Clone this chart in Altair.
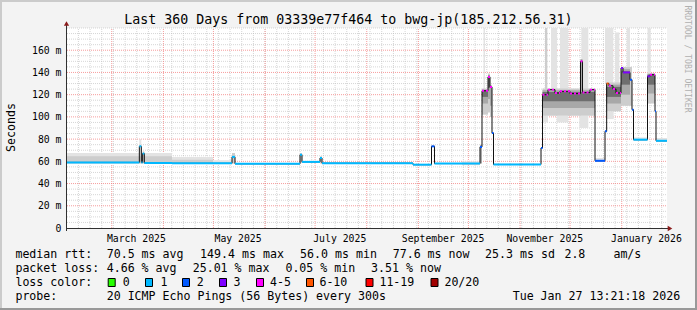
import altair as alt
import pandas as pd

# ---------------------------------------------------------------- data
GRAPH_END = "2026-01-28T03:45:00"      # right edge of the time axis
SPAN_DAYS = 360

# median rtt as steps: start day (since left edge), value in ms, loss class
med_day = [0, 43.4, 44.6, 45.4, 46.4, 63, 99, 100.8, 139.8, 141, 151.8, 153,
           207.6, 218.7, 220.5, 247.8, 249, 252.6, 253.8, 255, 255.9, 284.4,
           285.3, 288.6, 292.8, 295.8, 301.8, 308.1, 309.3, 313.8, 316.8, 322.8,
           323.8, 325.2, 327.6, 329.4, 332.4, 333.6, 337.8, 339.0, 339.9, 348.3,
           349.8, 352.8, 353.4]
med_ms = [59, 73.5, 59, 67, 58.5, 58.2, 64, 57.8, 66, 59.5, 63, 58.3,
          57, 73.5, 58, 73, 123.5, 136, 127, 85.5, 57.2, 72,
          120, 124.5, 121.5, 123, 121, 150, 122, 124.5, 60.5, 87,
          130, 128, 125, 121.5, 144, 140, 133.5, 106.5, 79.5, 136.5,
          138, 105, 78.5]
med_loss = ["1", "1", "1", "1", "1", "1", "1", "1", "1", "1", "1", "1",
            "1", "2", "1", "2", "4-5", "4-5", "4-5", "2", "1", "2",
            "4-5", "4-5", "4-5", "4-5", "4-5", "4-5", "4-5", "4-5", "2", "2",
            "6-10", "4-5", "4-5", "4-5", "3", "3", "2", "2", "1", "3",
            "4-5", "2", "1"]

# smoke (ping spread) bands: [from day, to day, low ms, high ms]
smoke_faint = [
    [0, 63, 57.5, 67.5], [43.4, 44.6, 59, 80], [63, 87.6, 57.5, 64],
    [87.6, 99, 57.5, 61], [237, 247.8, 56.5, 60], [249.9, 250.8, 124, 180],
    [285.3, 288.6, 95, 101], [293.8, 300.8, 95, 101], [307.4, 312.8, 90, 101],
    [290.4, 294.0, 125, 180], [295.8, 300.8, 125, 180], [308.6, 312.8, 125, 180],
    [316.8, 322.8, 59.5, 63], [322.8, 327.8, 130, 180], [328.8, 331.4, 126, 176],
    [335.8, 337.8, 141, 180], [348.3, 350.2, 138, 180], [323.4, 328.0, 98, 105],
    [339.9, 348.3, 78.5, 81.5], [353.4, 360, 77.5, 81],
]
smoke_light = [
    [0, 63, 58.5, 64.5], [45.4, 46.4, 59, 69], [63, 87.6, 58, 61.5],
    [99, 100.8, 58, 67.5], [139.8, 141, 58.5, 67.5], [151.8, 153, 58, 64.5],
    [249, 252.6, 102, 125.5], [252.6, 253.8, 104, 139], [253.8, 255, 100, 129],
    [285.3, 316.8, 101, 125.5], [286.8, 288.2, 125, 180],
    [323.4, 332.4, 105, 131], [332.4, 339.0, 110, 145], [348.3, 352.8, 112, 139.5],
]
smoke_mid = [
    [247.8, 249, 58, 75], [249, 252.6, 112, 124.5], [252.6, 253.8, 116, 137.5],
    [253.8, 255, 110, 128], [285.3, 316.8, 108, 124], [308.1, 309.3, 112, 152],
    [323.4, 332.4, 112, 129], [332.4, 337.8, 120, 143], [348.3, 352.8, 121, 138.5],
]
smoke_dark = [
    [249, 252.6, 118, 124], [252.6, 253.8, 126, 137], [285.3, 316.8, 114, 122.5],
    [323.4, 332.4, 118, 127], [332.4, 337.8, 129, 141], [348.3, 352.8, 129, 138],
]

loss_classes = ["0", "1", "2", "3", "4-5", "6-10", "11-19", "20/20"]
loss_colors = ["#26ff00", "#00b8ff", "#0059ff", "#7e00ff",
               "#ff00ff", "#ff5500", "#ff0000", "#a10000"]

y_label_values = [0, 20, 40, 60, 80, 100, 120, 140, 160]
x_label_dates = ["2025-03-15T12:00:00", "2025-05-15T12:00:00", "2025-07-15T12:00:00",
                 "2025-09-15T12:00:00", "2025-11-15T12:00:00", "2026-01-15T12:00:00"]

title_text = "Last 360 Days from 03339e77f464 to bwg-jp(185.212.56.31)"
legend_rows = [
    ["median rtt:", "70.5 ms avg", "149.4 ms max", "56.0 ms min",
     "77.6 ms now", "25.3 ms sd", "2.8", "am/s"],
    ["packet loss:", "4.66 % avg", "25.01 % max", "0.05 % min", "3.51 % now"],
    ["probe:", "20 ICMP Echo Pings (56 Bytes) every 300s", "Tue Jan 27 13:21:18 2026"],
]

# ---------------------------------------------------------------- layout
W, H = 600, 200
L, T = 67, 28
FONT = "DejaVu Sans Mono"
row1_x = [16, 107.3, 200.7, 300.7, 393.3, 485.7, 565, 614]
row2_x = [16, 107.3, 193.3, 286, 371.7]
row4_x = [16, 107.3, 513.3]
swatch_cx = [111.7, 149, 186, 223, 260, 310, 369.5, 434.5]
swatch_tx = [123.3, 161, 197.3, 234, 270.7, 320, 380, 445]

end = pd.Timestamp(GRAPH_END)
start = end - pd.Timedelta(days=SPAN_DAYS)


def iso(ts):
    return pd.Timestamp(ts).strftime("%Y-%m-%dT%H:%M:%S")


def at(d):
    return iso(start + pd.Timedelta(days=float(d)))


def dt(ts):
    ts = pd.Timestamp(ts)
    return alt.DateTime(year=ts.year, month=ts.month, date=ts.day,
                        hours=ts.hour, minutes=ts.minute, seconds=ts.second)


xs = alt.Scale(domain=[dt(start), dt(end)])
ys = alt.Scale(domain=[0, 180], nice=False, zero=False)
ONE = pd.DataFrame({"k": [0]})

x_axis = alt.Axis(values=[dt(d) for d in x_label_dates], format="%B %Y", title="",
                  labelFont=FONT, labelFontSize=9.8, labelColor="#000000",
                  labelPadding=13.5, labelBaseline="alphabetic", labelAlign="center",
                  labelFlush=False, labelOverlap=False, ticks=False,
                  domain=False, grid=False)
y_axis = alt.Axis(values=y_label_values, title="",
                  labelExpr="datum.value == 0 ? '0\u00a0\u00a0' : datum.value + ' m'",
                  labelFont=FONT, labelFontSize=9.8, labelColor="#000000",
                  labelPadding=6, labelBaseline="middle", ticks=False,
                  domain=False, grid=False)


def X(field):
    return alt.X(field, scale=xs, axis=x_axis)


def Y(field):
    return alt.Y(field, scale=ys, axis=y_axis)


# ---------------------------------------------------------------- frame
def band(x0, x1, y0, y1, color):
    return alt.Chart(ONE).mark_rect(color=color).encode(
        x=alt.value(x0 - L), x2=alt.value(x1 - L),
        y=alt.value(y0 - T), y2=alt.value(y1 - T))


frame = [
    band(0, 697, 0, 2, "#CBCBCB"), band(0, 2, 0, 310, "#CBCBCB"),
    band(695, 697, 0, 310, "#999999"), band(0, 697, 308, 310, "#999999"),
]

# ---------------------------------------------------------------- grid
sundays = [iso(d) for d in pd.date_range(start.normalize(), end, freq="W-SUN") if d > start]
months = [iso(d) for d in pd.date_range(start.normalize(), end, freq="MS") if d > start]
minor_v = [v for v in range(5, 185, 5) if v % 20 != 0 or v == 180]
major_v = list(range(20, 180, 20))


def vgrid(dates, color, opacity):
    df = pd.DataFrame({"t": dates, "lo": 0, "hi": 180})
    return alt.Chart(df).mark_rule(color=color, opacity=opacity, strokeDash=[1, 1],
                                   strokeWidth=1).encode(x=X("t:T"), y=Y("lo:Q"), y2="hi:Q")


def hgrid(values, color, opacity):
    df = pd.DataFrame({"v": values, "t0": iso(start), "t1": iso(end)})
    return alt.Chart(df).mark_rule(color=color, opacity=opacity, strokeDash=[1, 1],
                                   strokeWidth=1).encode(x=X("t0:T"), x2="t1:T", y=Y("v:Q"))


grids = [vgrid(sundays, "#BABABA", 0.6), hgrid(minor_v, "#BABABA", 0.6),
         vgrid(months, "#F27474", 0.7), hgrid(major_v, "#F27474", 0.7)]

# ---------------------------------------------------------------- smoke
def smoke(rows, color):
    df = pd.DataFrame({
        "t0": [at(r[0]) for r in rows], "t1": [at(r[1]) for r in rows],
        "lo": [r[2] for r in rows], "hi": [r[3] for r in rows]})
    return alt.Chart(df).mark_rect(color=color).encode(
        x=X("t0:T"), x2="t1:T", y=Y("lo:Q"), y2="hi:Q")


smoke_layers = [smoke(smoke_faint, "#E3E3E3"), smoke(smoke_light, "#CDCDCD"),
                smoke(smoke_mid, "#A8A8A8"), smoke(smoke_dark, "#6E6E6E")]

# ---------------------------------------------------------------- median
med_pts = pd.DataFrame({"t": [at(d) for d in med_day] + [iso(end)],
                        "ms": med_ms + [med_ms[-1]]})
median_line = alt.Chart(med_pts).mark_line(
    color="#111111", strokeWidth=1, interpolate="step-after").encode(
    x=X("t:T"), y=Y("ms:Q"))

seg = pd.DataFrame({"t0": [at(d) for d in med_day],
                    "t1": [at(d) for d in med_day[1:]] + [iso(end)],
                    "ms": med_ms, "loss": med_loss})
loss_scale = alt.Scale(domain=loss_classes, range=loss_colors)
heavy = ["4-5", "6-10", "11-19", "20/20"]
seg_solid = alt.Chart(seg).transform_filter(
    alt.FieldOneOfPredicate(field="loss", oneOf=loss_classes[:4])).mark_rule(
    strokeWidth=2).encode(
    x=X("t0:T"), x2="t1:T", y=Y("ms:Q"),
    color=alt.Color("loss:N", scale=loss_scale, legend=None))
seg_dash = alt.Chart(seg).transform_filter(
    alt.FieldOneOfPredicate(field="loss", oneOf=heavy)).mark_rule(
    strokeWidth=2, strokeDash=[2, 2]).encode(
    x=X("t0:T"), x2="t1:T", y=Y("ms:Q"),
    color=alt.Color("loss:N", scale=loss_scale, legend=None))

# ---------------------------------------------------------------- axes lines
def rule_px(x0, x1, y0, y1, color, width=1):
    return alt.Chart(ONE).mark_rule(color=color, strokeWidth=width).encode(
        x=alt.value(x0 - L), x2=alt.value(x1 - L),
        y=alt.value(y0 - T), y2=alt.value(y1 - T))


axis_lines = [
    rule_px(66.5, 669, 228.5, 228.5, "#303030"),
    rule_px(66.5, 66.5, 231, 24, "#303030"),
]
arrows = [
    alt.Chart(ONE).mark_point(shape="triangle-right", filled=True, size=28,
                              color="#8B1C1C", opacity=1).encode(
        x=alt.value(670 - L), y=alt.value(228.5 - T)),
    alt.Chart(ONE).mark_point(shape="triangle-up", filled=True, size=28,
                              color="#8B1C1C", opacity=1).encode(
        x=alt.value(66.5 - L), y=alt.value(23.5 - T)),
]

# ---------------------------------------------------------------- texts
def label(s, px, py, size=11.6, align="left", baseline="alphabetic",
          color="#000000", angle=None):
    kw = dict(text=s, font=FONT, fontSize=size, align=align,
              baseline=baseline, color=color)
    if angle is not None:
        kw["angle"] = angle
    return alt.Chart(ONE).mark_text(**kw).encode(
        x=alt.value(px - L), y=alt.value(py - T))


texts = [
    label(title_text, 348.3, 24, size=13.3, align="center"),
    label("Seconds", 11.5, 127.5, size=11.6, align="center", baseline="middle", angle=270),
    label("RRDTOOL / TOBI OETIKER", 686.5, 59, size=8.1, align="center",
          baseline="middle", color="#B0B0B0", angle=90),
]
for s, px in zip(legend_rows[0], row1_x):
    texts.append(label(s, px - 0.6, 258))
for s, px in zip(legend_rows[1], row2_x):
    texts.append(label(s, px - 0.6, 272.2))
texts.append(label("loss color:", 16 - 0.6, 286.2))
for s, px in zip(legend_rows[2], row4_x):
    texts.append(label(s, px - 0.6, 300.3))

swatches = []
for cls, col, cx, tx in zip(loss_classes, loss_colors, swatch_cx, swatch_tx):
    swatches.append(alt.Chart(ONE).mark_rect(fill=col, stroke="#000000", strokeWidth=1).encode(
        x=alt.value(cx - 3.5 - L), x2=alt.value(cx + 3.5 - L),
        y=alt.value(278.5 - T), y2=alt.value(286.5 - T)))
    texts.append(label(cls, tx - 0.6, 286.2))

chart = alt.layer(
    *frame, *grids, *smoke_layers,
    median_line, seg_solid, seg_dash, *axis_lines, *arrows, *swatches, *texts
).properties(
    width=W, height=H,
    padding={"left": L, "top": T, "right": 697 - L - W, "bottom": 310 - T - H},
    autosize=alt.AutoSizeParams(type="none"),
    background="#F3F3F3",
).configure_view(fill="#FFFFFF", strokeWidth=0)

chart.save("out.html", embed_options={"renderer": "svg", "actions": False})
